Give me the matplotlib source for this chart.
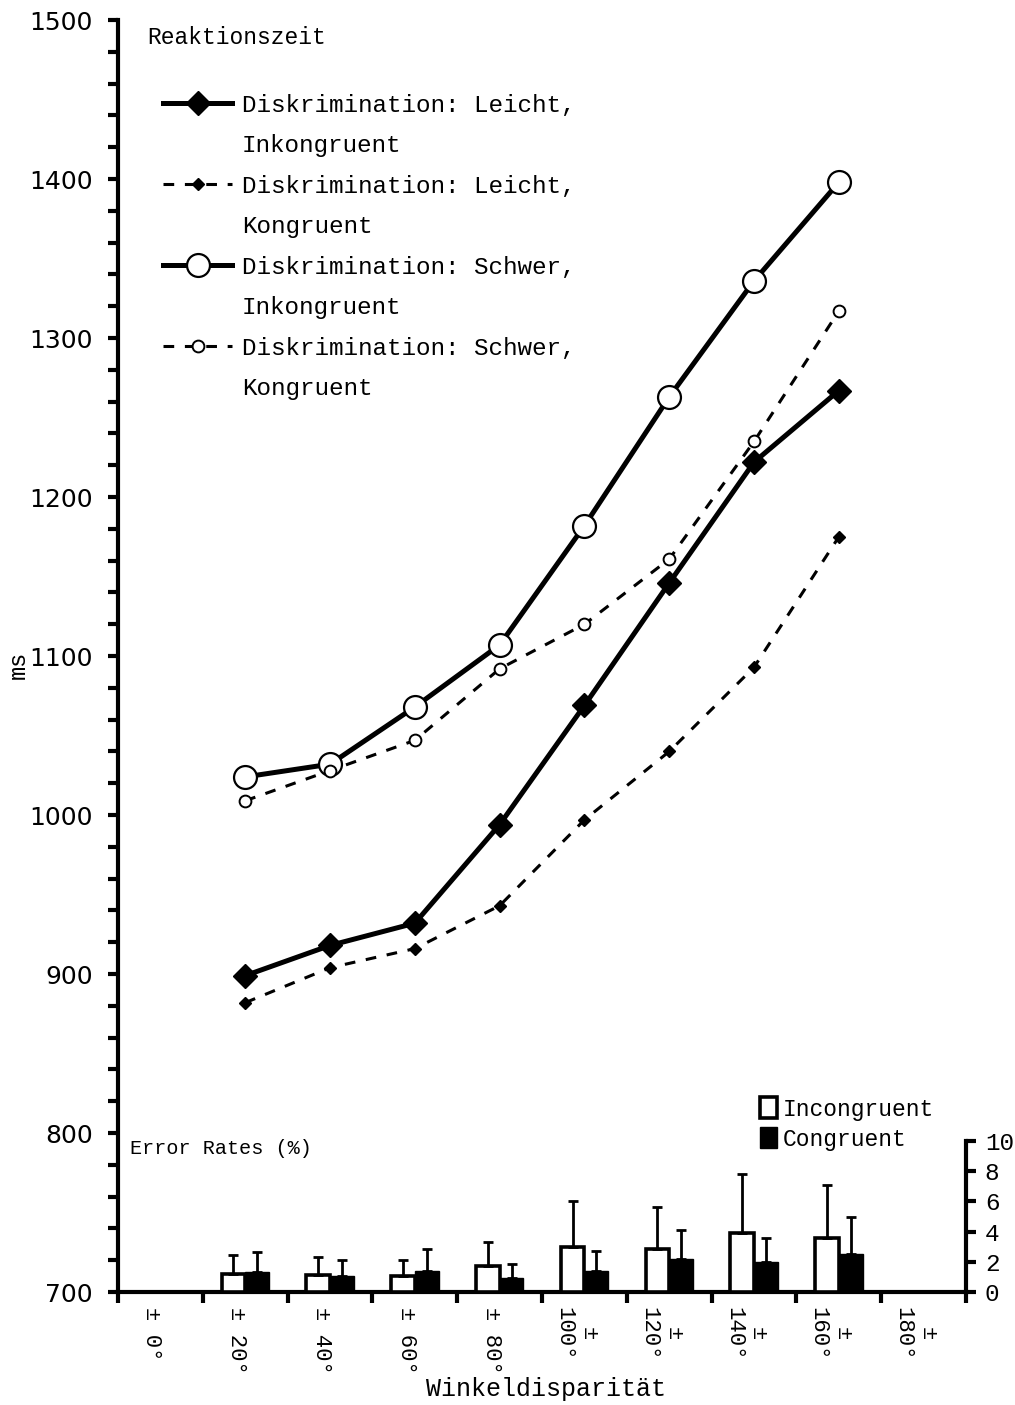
import numpy as np
import matplotlib.pyplot as plt
from matplotlib.lines import Line2D
from matplotlib.ticker import MultipleLocator

mono = 'Liberation Mono'

# Winkeldisparität categories (10 bins, data only for 20°..160°)
angle_labels = ['± 0°', '± 20°', '± 40°', '± 60°', '± 80°',
                '±\n100°', '±\n120°', '±\n140°', '±\n160°', '±\n180°']
measured = [1, 2, 3, 4, 5, 6, 7, 8]

# Reaktionszeit in ms
leicht_ink = [899, 918, 932, 994, 1069, 1146, 1222, 1267]
leicht_kon = [882, 904, 916, 943, 997, 1040, 1093, 1175]
schwer_ink = [1024, 1032, 1068, 1107, 1182, 1263, 1336, 1398]
schwer_kon = [1009, 1028, 1047, 1092, 1120, 1161, 1235, 1317]

# error rates in % with upper SD
err_ink = [1.2, 1.15, 1.05, 1.7, 3.0, 2.85, 3.9, 3.55]
err_ink_sd = [1.25, 1.2, 1.1, 1.6, 3.0, 2.75, 3.9, 3.55]
err_kon = [1.3, 1.05, 1.4, 0.95, 1.4, 2.2, 2.0, 2.5]
err_kon_sd = [1.35, 1.05, 1.45, 0.9, 1.3, 1.9, 1.6, 2.5]

fig = plt.figure(figsize=(10.15, 14.05), dpi=100)
ax = fig.add_axes([0.1163, 0.0804, 0.8355, 0.9053])
x = np.array(measured)

dash = (0, (3.5, 3.5))
l1, = ax.plot(x, leicht_ink, color='black', lw=3.6, marker='D', ms=12.5,
              mfc='black', mec='black')
l2, = ax.plot(x, leicht_kon, color='black', lw=2.2, ls=dash, marker='D', ms=6,
              mfc='black', mec='black')
l3, = ax.plot(x, schwer_ink, color='black', lw=3.6, marker='o', ms=16.5,
              mfc='white', mec='black', mew=1.6)
l4, = ax.plot(x, schwer_kon, color='black', lw=2.2, ls=dash, marker='o', ms=8.5,
              mfc='white', mec='black', mew=1.4)

ax.set_xlim(-0.5, 9.5)
ax.set_ylim(700, 1500)
ax.yaxis.set_major_locator(MultipleLocator(100))
ax.yaxis.set_minor_locator(MultipleLocator(20))
ax.tick_params(axis='y', which='both', direction='out', length=7, width=3, pad=11,
               labelsize=18)

# category boundaries get the ticks, labels sit in the middle
ax.set_xticks(np.arange(-0.5, 10, 1))
ax.set_xticklabels([])
ax.set_xticks(np.arange(10) - 0.1, angle_labels, minor=True)
ax.tick_params(axis='x', which='major', direction='out', length=8, width=3)
ax.tick_params(axis='x', which='minor', length=0, pad=11)
for lab in ax.get_xticklabels(minor=True):
    lab.set_rotation(270)
    lab.set_fontfamily(mono)
    lab.set_fontsize(16)
    lab.set_multialignment('center')

for s in ['top', 'right']:
    ax.spines[s].set_visible(False)
ax.spines['left'].set_linewidth(3)
ax.spines['bottom'].set_linewidth(3)

ax.set_ylabel('ms', fontfamily=mono, fontsize=17)
ax.yaxis.set_label_coords(-0.104, 0.493)
ax.set_xlabel('Winkeldisparität', fontfamily=mono, fontsize=18, va='top')
ax.xaxis.set_label_coords(0.505, -0.067)

ax.text(0.035, 0.986, 'Reaktionszeit', transform=ax.transAxes, fontfamily=mono,
        fontsize=16.5, va='center')

# legend: second text line as a row with an empty handle
blank = Line2D([], [], linestyle='none')
handles = [l1, blank, l2, blank, l3, blank, l4, blank]
labels = ['Diskrimination: Leicht,', 'Inkongruent',
          'Diskrimination: Leicht,', 'Kongruent',
          'Diskrimination: Schwer,', 'Inkongruent',
          'Diskrimination: Schwer,', 'Kongruent']
ax.legend(handles, labels, loc='upper left', bbox_to_anchor=(0.053, 0.942),
          frameon=False, prop={'family': mono, 'size': 17.5}, numpoints=1,
          handlelength=2.85, handletextpad=0.4, labelspacing=0.72,
          borderpad=0, borderaxespad=0)

# error rates on a right-hand scale in the lower part
ax2 = ax.twinx()
ax2.set_ylim(0, 10 * 1272 / 151)
w = 0.28
ekw = dict(capsize=3.5, elinewidth=2, capthick=2, ecolor='black')
b1 = ax2.bar(x - w / 2, err_ink, w, color='white', edgecolor='black', linewidth=2.6,
             yerr=[np.zeros(len(x)), err_ink_sd], error_kw=ekw, label='Incongruent')
b2 = ax2.bar(x + w / 2, err_kon, w, color='black', edgecolor='black', linewidth=1,
             yerr=[np.zeros(len(x)), err_kon_sd], error_kw=ekw, label='Congruent')
ax2.set_yticks(np.arange(0, 11, 2))
ax2.tick_params(axis='y', direction='out', length=7, width=3, pad=6.5)
for lab in ax2.get_yticklabels():
    lab.set_fontfamily(mono)
    lab.set_fontsize(17.5)
for s in ['top', 'left', 'bottom']:
    ax2.spines[s].set_visible(False)
ax2.spines['right'].set_bounds(0, 10)
ax2.spines['right'].set_linewidth(3)

ax2.text(0.014, 0.1132, 'Error Rates (%)', transform=ax2.transAxes, fontfamily=mono,
         fontsize=14.5, va='center')
ax2.legend(handles=[b1, b2], loc='upper left', bbox_to_anchor=(0.757, 0.153),
           frameon=False, prop={'family': mono, 'size': 16.5}, handlelength=0.75,
           handleheight=1.0, handletextpad=0.25, labelspacing=0.3,
           borderpad=0, borderaxespad=0)

fig.savefig('out.png', dpi=100)
